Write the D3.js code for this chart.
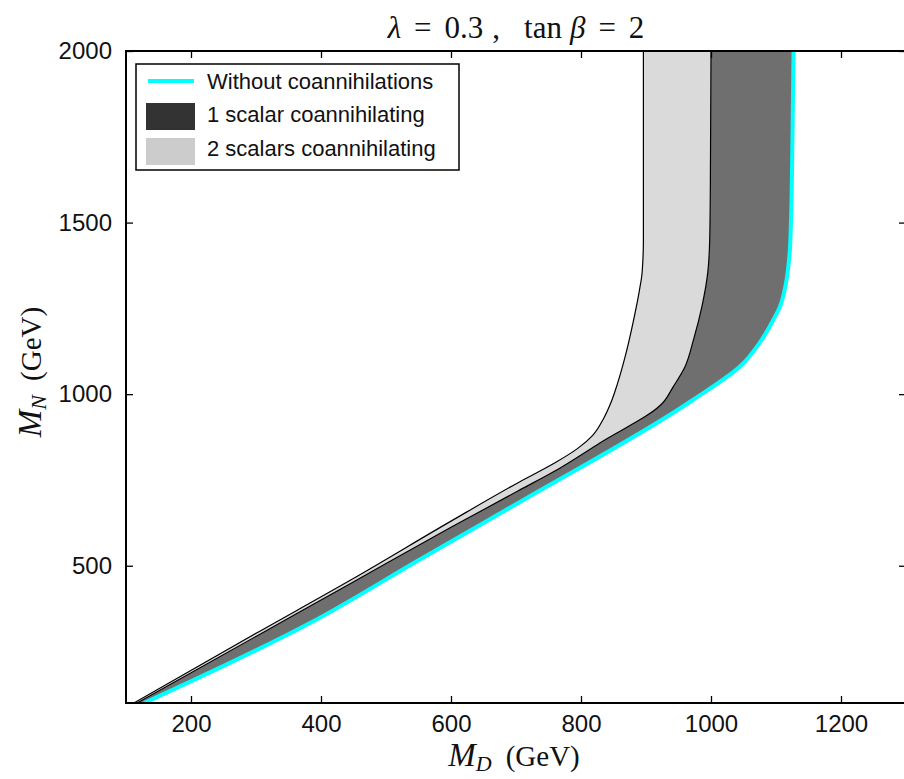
<!DOCTYPE html>
<html><head><meta charset="utf-8">
<script src="https://cdn.jsdelivr.net/npm/d3@7"></script>
<style>body{margin:0;background:#fff}svg{display:block}</style>
</head><body>
<svg id="chart" width="904" height="779"></svg>
<script>
// ---- data (M_D in GeV, M_N in GeV) ----
const cyanMD = [128, 383, 550, 706, 972, 1047, 1075, 1096, 1106, 1115, 1121, 1123, 1125, 1127];
const cyanMN = [100, 333, 516, 686, 983, 1085, 1150, 1217, 1255, 1320, 1412, 1500, 1700, 2000];
const oneMD = [117, 300, 449, 600, 706, 757, 829, 926, 942, 960, 973, 986, 995, 998, 999, 1000];
const oneMN = [100, 294, 452, 612, 721, 773, 858, 975, 1022, 1080, 1158, 1255, 1354, 1450, 1600, 2000];
const twoMD = [112, 300, 449, 600, 706, 760, 795, 818, 835, 847, 856, 868, 880, 890, 894, 896, 896];
const twoMN = [100, 303, 462, 630, 745, 800, 842, 880, 930, 980, 1030, 1110, 1208, 1304, 1354, 1450, 2000];
const xTicks = [200, 400, 600, 800, 1000, 1200];
const yTicks = [500, 1000, 1500, 2000];
const legendLabels = ["Without coannihilations", "1 scalar coannihilating", "2 scalars coannihilating"];

const svg = d3.select("#chart");
const L = 126, R = 906, T = 51, B = 703;
const x = d3.scaleLinear().domain([100, 1300]).range([L, R]);
const y = d3.scaleLinear().domain([100, 2000]).range([B, T]);

svg.append("defs").append("clipPath").attr("id", "clip")
  .append("rect").attr("x", L).attr("y", T).attr("width", R - L).attr("height", B - T);

const pts = (a, b) => a.map((v, i) => [v, b[i]]);
const cyan = pts(cyanMD, cyanMN), one = pts(oneMD, oneMN), two = pts(twoMD, twoMN);
const line = d3.line().x(d => x(d[0])).y(d => y(d[1])).curve(d3.curveMonotoneY);
const band = (a, b) => line(a) + "L" + line(b.slice().reverse()).slice(1) + "Z";

const g = svg.append("g").attr("clip-path", "url(#clip)");
g.append("path").attr("d", band(one, cyan)).attr("fill", "#6f6f6f");
g.append("path").attr("d", band(two, one)).attr("fill", "#dadada");
g.append("path").attr("d", line(two)).attr("fill", "none").attr("stroke", "#000").attr("stroke-width", 1.2);
g.append("path").attr("d", line(one)).attr("fill", "none").attr("stroke", "#000").attr("stroke-width", 1.2);
g.append("path").attr("d", line(cyan)).attr("fill", "none").attr("stroke", "#00ffff").attr("stroke-width", 4);

// axes
const axFont = "Liberation Sans, Arial, sans-serif";
function styleAxis(sel, showText) {
  sel.select(".domain").remove();
  sel.selectAll(".tick line").attr("stroke", "#000").attr("stroke-width", 1.3);
  sel.selectAll(".tick text").attr("font-family", axFont).attr("font-size", 24).attr("fill", "#111");
  if (!showText) sel.selectAll(".tick text").remove();
}
svg.append("g").attr("transform", `translate(0,${B})`)
  .call(d3.axisBottom(x).tickValues(xTicks).tickSize(-7).tickPadding(12).tickFormat(d3.format("d")))
  .call(s => styleAxis(s, true));
svg.append("g").attr("transform", `translate(0,${T})`)
  .call(d3.axisTop(x).tickValues(xTicks).tickSize(-7))
  .call(s => styleAxis(s, false));
svg.append("g").attr("transform", `translate(${L},0)`)
  .call(d3.axisLeft(y).tickValues(yTicks).tickSize(-7).tickPadding(14).tickFormat(d3.format("d")))
  .call(s => styleAxis(s, true));
svg.append("g").attr("transform", `translate(${R},0)`)
  .call(d3.axisRight(y).tickValues(yTicks).tickSize(-7))
  .call(s => styleAxis(s, false));

svg.append("rect").attr("x", L).attr("y", T).attr("width", R - L).attr("height", B - T)
  .attr("fill", "none").attr("stroke", "#000").attr("stroke-width", 2);

// title
const serif = "Liberation Serif, Times New Roman, serif";
const title = svg.append("text").attr("x", 516).attr("y", 38).attr("text-anchor", "middle")
  .attr("font-family", serif).attr("font-size", 31).attr("fill", "#111");
[["λ", 0, true], ["=", 13, false], ["0.3", 13, false], [",", 9, false], ["tan", 24, false],
 ["β", 8, true], ["=", 13, false], ["2", 13, false]].forEach(([t, dx, it]) => {
  const s = title.append("tspan").attr("dx", dx).text(t);
  if (it) s.attr("font-style", "italic");
});

// axis labels
function axisLabel(t, sub) {
  t.append("tspan").attr("font-style", "italic").attr("font-size", 33).text("M");
  t.append("tspan").attr("font-style", "italic").attr("font-size", 22).attr("dy", 5).text(sub);
  t.append("tspan").attr("dy", -5).attr("dx", 14).text("(GeV)");
}
const xl = svg.append("text").attr("x", 514).attr("y", 766).attr("text-anchor", "middle")
  .attr("font-family", serif).attr("font-size", 29).attr("fill", "#111");
axisLabel(xl, "D");
const yl = svg.append("text").attr("transform", "translate(41,372) rotate(-90)").attr("text-anchor", "middle")
  .attr("font-family", serif).attr("font-size", 29).attr("fill", "#111");
axisLabel(yl, "N");

// legend
const lg = svg.append("g");
lg.append("rect").attr("x", 136).attr("y", 64).attr("width", 323).attr("height", 106)
  .attr("fill", "#fff").attr("stroke", "#000").attr("stroke-width", 1.5);
lg.append("line").attr("x1", 148).attr("x2", 194).attr("y1", 81).attr("y2", 81)
  .attr("stroke", "#00ffff").attr("stroke-width", 4);
lg.append("rect").attr("x", 146).attr("y", 103).attr("width", 49).attr("height", 27).attr("fill", "#333");
lg.append("rect").attr("x", 146).attr("y", 138).attr("width", 49).attr("height", 27).attr("fill", "#ccc");
const baselines = [89, 122, 156];
legendLabels.forEach((t, i) => {
  lg.append("text").attr("x", 207).attr("y", baselines[i]).attr("font-family", axFont)
    .attr("font-size", 22).attr("fill", "#111").text(t);
});
</script>
</body></html>
